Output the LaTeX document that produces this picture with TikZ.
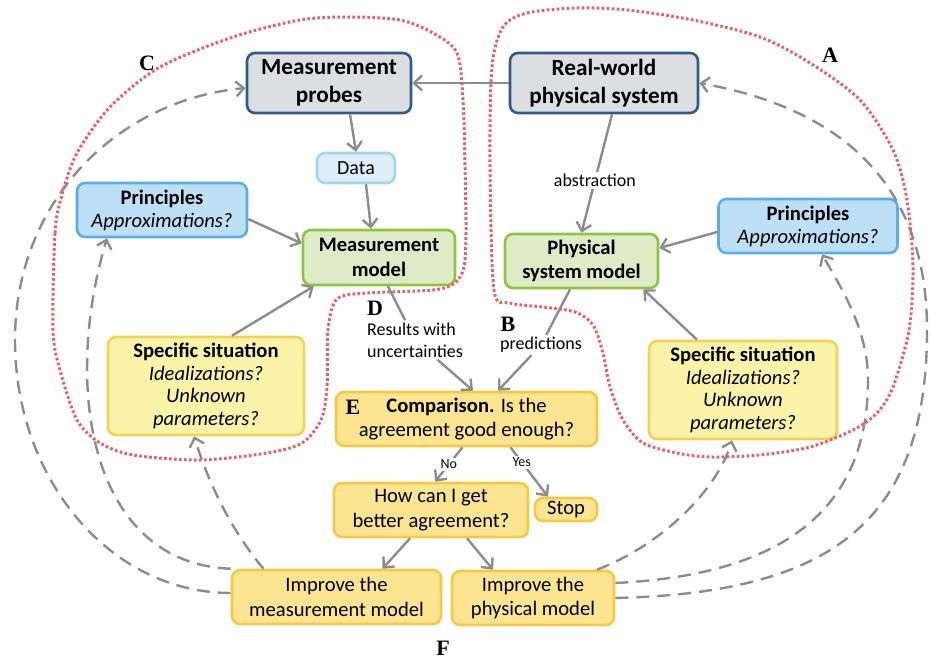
\documentclass[tikz,border=0pt]{standalone}
\usepackage{fontspec}
\setmainfont{Carlito}
\newfontfamily\letterfont{Liberation Serif}
\usetikzlibrary{arrows.meta}

\begin{document}
\begin{tikzpicture}[x=0.5pt,y=-0.5pt,
  boxbase/.style={draw,rounded corners=4pt,line width=1.3pt,align=center,inner sep=0pt,font=\fontsize{10.3}{12.3}\selectfont},
  sysbox/.style={boxbase,draw=sysline,fill=sysfill,font=\fontsize{11.6}{14}\selectfont\bfseries},
  prbox/.style={boxbase,draw=prline,fill=prfill,font=\fontsize{10.3}{11.5}\selectfont},
  databox/.style={boxbase,draw=dataline,fill=datafill,font=\fontsize{10}{12}\selectfont},
  modbox/.style={boxbase,draw=modline,fill=modfill,font=\fontsize{10.3}{12.3}\selectfont\bfseries},
  sitbox/.style={boxbase,draw=sitline,fill=sitfill,font=\fontsize{10.3}{11.2}\selectfont},
  cmpbox/.style={boxbase,draw=cmpline,fill=cmpfill},
  lbl/.style={font=\fontsize{9}{11}\selectfont,inner sep=1pt},
  small/.style={font=\fontsize{7}{8}\selectfont,inner sep=1pt},
  zonetag/.style={font=\letterfont\bfseries\fontsize{11}{13}\selectfont},
  arr/.style={draw=arrgray,line width=1.2pt,-{Straight Barb[length=4pt,width=7.5pt]}},
  fb/.style={arr,dash pattern=on 6.5pt off 4pt},
  zone/.style={draw=zonered,line width=1.5pt,dash pattern=on 1.3pt off 1.2pt}]
% Colours
\definecolor{sysfill}{RGB}{220,222,224}
\definecolor{sysline}{RGB}{46,90,142}
\definecolor{prfill}{RGB}{190,224,247}
\definecolor{prline}{RGB}{90,174,228}
\definecolor{datafill}{RGB}{222,239,251}
\definecolor{dataline}{RGB}{165,212,242}
\definecolor{modfill}{RGB}{222,235,198}
\definecolor{modline}{RGB}{140,198,64}
\definecolor{sitfill}{RGB}{251,244,168}
\definecolor{sitline}{RGB}{242,210,90}
\definecolor{cmpfill}{RGB}{252,228,145}
\definecolor{cmpline}{RGB}{245,200,70}
\definecolor{arrgray}{RGB}{140,140,140}
\definecolor{zonered}{RGB}{238,92,104}

\useasboundingbox (0,0) rectangle (930,658);

% Top row
\node[sysbox,minimum width=82pt,minimum height=30pt] (probes) at (329,83) {Measurement\\probes};
\node[sysbox,minimum width=94pt,minimum height=30pt] (world) at (604,83) {Real-world\\physical system};
\node[databox,minimum width=39pt,minimum height=15pt] (data) at (356,168) {Data};

% Models and their inputs
\node[prbox,minimum width=85pt,minimum height=27pt] (prinL) at (162,210) {\textbf{Principles}\\\textit{Approximations?}};
\node[modbox,minimum width=76pt,minimum height=27.5pt] (mmodel) at (379,257.5) {Measurement\\model};
\node[modbox,minimum width=76.5pt,minimum height=27pt] (pmodel) at (581.5,261) {Physical\\system model};
\node[prbox,minimum width=89.5pt,minimum height=27pt] (prinR) at (808,226) {\textbf{Principles}\\\textit{Approximations?}};
\node[sitbox,minimum width=98pt,minimum height=49pt] (sitL) at (206,386) {\textbf{Specific situation}\\\textit{Idealizations?}\\\textit{Unknown}\\\textit{parameters?}};
\node[sitbox,minimum width=94pt,minimum height=49pt] (sitR) at (743,390) {\textbf{Specific situation}\\\textit{Idealizations?}\\\textit{Unknown}\\\textit{parameters?}};

% Comparison and decisions
\node[cmpbox,minimum width=130.5pt,minimum height=27pt] (cmp) at (466.5,419) {\textbf{Comparison.} Is the\\agreement good enough?};
\node[cmpbox,minimum width=97pt,minimum height=27pt] (how) at (431,510) {How can I get\\better agreement?};
\node[cmpbox,minimum width=31pt,minimum height=11.5pt] (stop) at (566,509.5) {Stop};
\node[cmpbox,minimum width=104.5pt,minimum height=27pt] (impM) at (336.5,597) {Improve the\\measurement model};
\node[cmpbox,minimum width=81pt,minimum height=27pt] (impP) at (533,598) {Improve the\\physical model};

% Edge labels
\node[lbl,align=left] (res) at (415,340) {Results with\\uncertainties};
\node[lbl] (pred) at (541,345) {predictions};

% Letters
\node[zonetag] (tagA) at (830,55) {A};
\node[zonetag] (tagB) at (508,324) {B};
\node[zonetag] (tagC) at (147,63) {C};
\node[zonetag] (tagD) at (375,308) {D};
\node[zonetag] (tagE) at (353,407) {E};
\node[zonetag] (tagF) at (443,648) {F};

% Solid arrows
\draw[arr] (world.west) -- (probes.east);
\draw[arr] ([xshift=10.5pt]probes.south) -- (data.north);
\draw[arr] ([xshift=5pt]data.south) -- ([xshift=-4pt]mmodel.north);
\draw[arr] ([yshift=-4.5pt]prinL.east) -- ([yshift=7pt]mmodel.west);
\draw[arr] ([xshift=13pt]sitL.north) -- ([xshift=6pt]mmodel.south west);
\draw[arr] ([xshift=4pt]world.south) -- node[lbl,fill=white,pos=0.56] (abs) {abstraction} (pmodel.north);
\draw[arr] ([yshift=-3pt]prinR.west) -- ([yshift=6.5pt]pmodel.east);
\draw[arr] ([xshift=-23pt]sitR.north) -- ([xshift=-8pt]pmodel.south east);
\draw[arrgray,line width=1.2pt] ([xshift=4.5pt]mmodel.south) -- (res);
\draw[arr] (res) -- ([xshift=3.25pt]cmp.north);
\draw[arrgray,line width=1.2pt] ([xshift=-5.75pt]pmodel.south) -- (pred);
\draw[arr] (pred) -- ([xshift=15.75pt]cmp.north);
\draw[arr] ([xshift=-2pt]cmp.south) -- node[small,fill=white] (no) {No} ([xshift=2pt]how.north);
\draw[arr] ([xshift=22pt]cmp.south) -- node[small,fill=white,pos=0.3] (yes) {Yes} ([xshift=-9pt]stop.north);
\draw[arr] ([xshift=-10.5pt]how.south) -- ([xshift=23pt]impM.north);
\draw[arr] ([xshift=18pt]how.south) -- ([xshift=-20pt]impP.north);

% Dashed feedback arrows
\draw[fb] ([xshift=-36.5pt]impM.north) .. controls +(-32,-38) and +(15,48) .. ([xshift=-6pt]sitL.south);
\draw[fb] (impM.north west) .. controls +(-140,-5) and +(-45,150) .. ([xshift=-27.5pt]prinL.south);
\draw[fb] ([yshift=2pt]impM.west) .. controls +(-120,0) and +(0,140) .. (15,340) .. controls +(0,-139) and +(-128,12) .. ([yshift=-2.5pt]probes.west);
\draw[fb] ([xshift=32pt]impP.north) .. controls +(65,-25) and +(-15,50) .. ([xshift=-5.5pt]sitR.south);
\draw[fb] ([yshift=7.5pt]impP.east) .. controls +(165,-8) and +(0,132) .. (868,380) .. controls +(0,-50) and +(20,35) .. ([xshift=7pt]prinR.south);
\draw[fb] (impP.east) .. controls +(221,-5) and +(0,188) .. (927,330) .. controls +(0,-150) and +(138,25) .. (world.east);

% Dotted zones
\draw[zone] plot[smooth cycle] coordinates {(53,330) (55,233) (62,195) (77,153) (110,107) (160,67) (233,37) (300,20) (350,17) (400,20) (433,33) (457,53) (463,100) (465,167) (466,233) (464,267) (455,283) (433,290) (367,293) (337,299) (328,330) (327,387) (321,420) (302,443) (267,453) (200,460) (133,455) (100,443) (77,420) (60,370)};
\draw[zone] plot[smooth cycle] coordinates {(503,27) (527,13) (577,8) (627,10) (693,20) (760,37) (810,63) (860,100) (893,150) (907,200) (913,267) (909,330) (893,387) (877,413) (853,430) (810,447) (760,455) (710,457) (677,453) (643,443) (623,420) (610,387) (603,353) (593,325) (575,312) (543,307) (510,303) (494,290) (490,167) (492,67)};
\end{tikzpicture}
\end{document}
